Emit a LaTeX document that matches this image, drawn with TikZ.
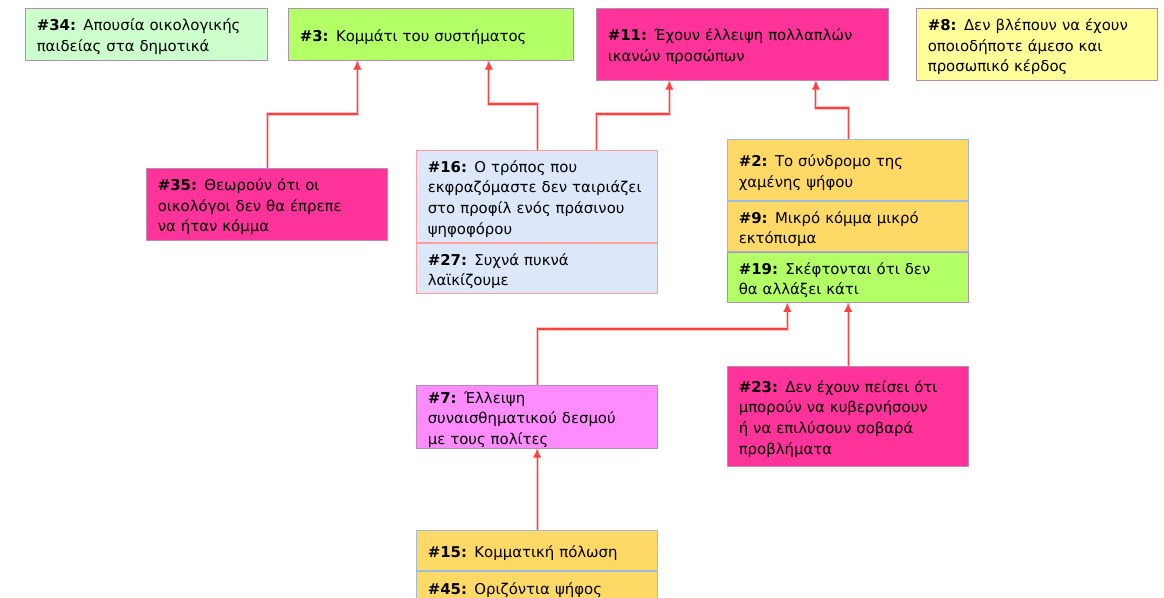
\documentclass[tikz,border=0pt]{standalone}
\usepackage{fontspec}
\setmainfont{DejaVu Sans}
\usetikzlibrary{calc,arrows.meta}
\definecolor{mauve}{HTML}{B58DB5}
\definecolor{paleblue}{HTML}{9DBCE0}
\definecolor{palered}{HTML}{FF9E9E}
\definecolor{mint}{HTML}{CCFFCC}
\definecolor{lime}{HTML}{B2FF66}
\definecolor{hotpink}{HTML}{FF3399}
\definecolor{lemon}{HTML}{FFFF99}
\definecolor{sky}{HTML}{DCE8FA}
\definecolor{gold}{HTML}{FFD966}
\definecolor{orchid}{HTML}{FF8CFF}
\definecolor{linkred}{HTML}{FF4040}
\definecolor{halo}{HTML}{FFC4C4}
\begin{document}
\begin{tikzpicture}[x=0.025cm, y=-0.025cm,
  box/.style={draw=mauve, line width=0.8pt, anchor=north west, inner xsep=0.28cm, inner ysep=0pt,
    align=left, minimum width=6.025cm, text width=5.465cm, font=\fontsize{10.6}{14.6}\selectfont,
    execute at begin node={\rule{0pt}{12pt}}, execute at end node={\rule[-2.5pt]{0pt}{0pt}}},
  link/.style={draw=linkred, line width=0.8pt, -{Latex[length=6pt,width=6pt]},
    preaction={draw=halo, line width=2.2pt, -}}]
\clip (0,0) rectangle (1164,598);
% top row
\node[box, fill=mint, minimum width=6.05cm, text width=5.49cm, minimum height=1.3cm] (n34) at (25,8)
  {\textbf{\#34:} Απουσία οικολογικής\\παιδείας στα δημοτικά};
\node[box, fill=lime, minimum width=7.125cm, text width=6.565cm, minimum height=1.3cm] (n3) at (288,8)
  {\textbf{\#3:} Κομμάτι του συστήματος};
\node[box, fill=hotpink, minimum width=7.3cm, text width=6.74cm, minimum height=1.8cm] (n11) at (596,8)
  {\textbf{\#11:} Έχουν έλλειψη πολλαπλών\\ικανών προσώπων};
\node[box, fill=lemon, minimum height=1.8cm] (n8) at (916,8)
  {\textbf{\#8:} Δεν βλέπουν να έχουν\\οποιοδήποτε άμεσο και\\προσωπικό κέρδος};
% middle row
\node[box, fill=hotpink, minimum height=1.8cm] (n35) at (146,168)
  {\textbf{\#35:} Θεωρούν ότι οι\\οικολόγοι δεν θα έπρεπε\\να ήταν κόμμα};
\node[box, draw=palered, fill=sky, minimum height=2.3cm] (n16) at (416,150)
  {\textbf{\#16:} Ο τρόπος που\\εκφραζόμαστε~δεν~ταιριάζει\\στο προφίλ ενός πράσινου\\ψηφοφόρου};
\node[box, draw=palered, fill=sky, minimum height=1.25cm] (n27) at (n16.south west)
  {\textbf{\#27:} Συχνά πυκνά\\λαϊκίζουμε};
\node[box, draw=paleblue, fill=gold, minimum height=1.525cm] (n2) at (727,139)
  {\textbf{\#2:} Το σύνδρομο της\\χαμένης ψήφου};
\node[box, draw=paleblue, fill=gold, minimum height=1.25cm] (n9) at (n2.south west)
  {\textbf{\#9:} Μικρό κόμμα μικρό\\εκτόπισμα};
\node[box, fill=lime, minimum height=1.25cm] (n19) at (n9.south west)
  {\textbf{\#19:} Σκέφτονται ότι δεν\\θα αλλάξει κάτι};
% lower rows
\node[box, fill=orchid, minimum height=1.575cm] (n7) at (416,385)
  {\textbf{\#7:} Έλλειψη\\συναισθηματικού δεσμού\\με τους πολίτες};
\node[box, fill=hotpink, minimum height=2.5cm] (n23) at (727,366)
  {\textbf{\#23:} Δεν έχουν πείσει ότι\\μπορούν να κυβερνήσουν\\ή να επιλύσουν σοβαρά\\προβλήματα};
\node[box, draw=paleblue, fill=gold, minimum height=1cm] (n15) at (416,530)
  {\textbf{\#15:} Κομματική πόλωση};
\node[box, draw=paleblue, fill=gold, minimum height=0.8cm] (n45) at (n15.south west)
  {\textbf{\#45:} Οριζόντια ψήφος};
% arrow ends
\coordinate (t3a) at ($(n3.south west)!.242!(n3.south east)$);
\coordinate (t3b) at ($(n3.south west)!.702!(n3.south east)$);
\coordinate (t11a) at ($(n11.south west)!.25!(n11.south east)$);
\coordinate (t11b) at ($(n11.south west)!.75!(n11.south east)$);
\coordinate (t19a) at ($(n19.south west)!.249!(n19.south east)$);
\coordinate (s16b) at ($(n16.north west)!.747!(n16.north east)$);
% links
\draw[link] (n35.north) -- ++(0,-54) -| (t3a);
\draw[link] (n16.north) -- ++(0,-46) -| (t3b);
\draw[link] (s16b) -- ++(0,-36) -| (t11a);
\draw[link] (n2.north) -- ++(0,-31) -| (t11b);
\draw[link] (n7.north) -- ++(0,-56) -| (t19a);
\draw[link] (n23.north) -- (n19.south);
\draw[link] (n15.north) -- (n7.south);
\end{tikzpicture}
\end{document}
